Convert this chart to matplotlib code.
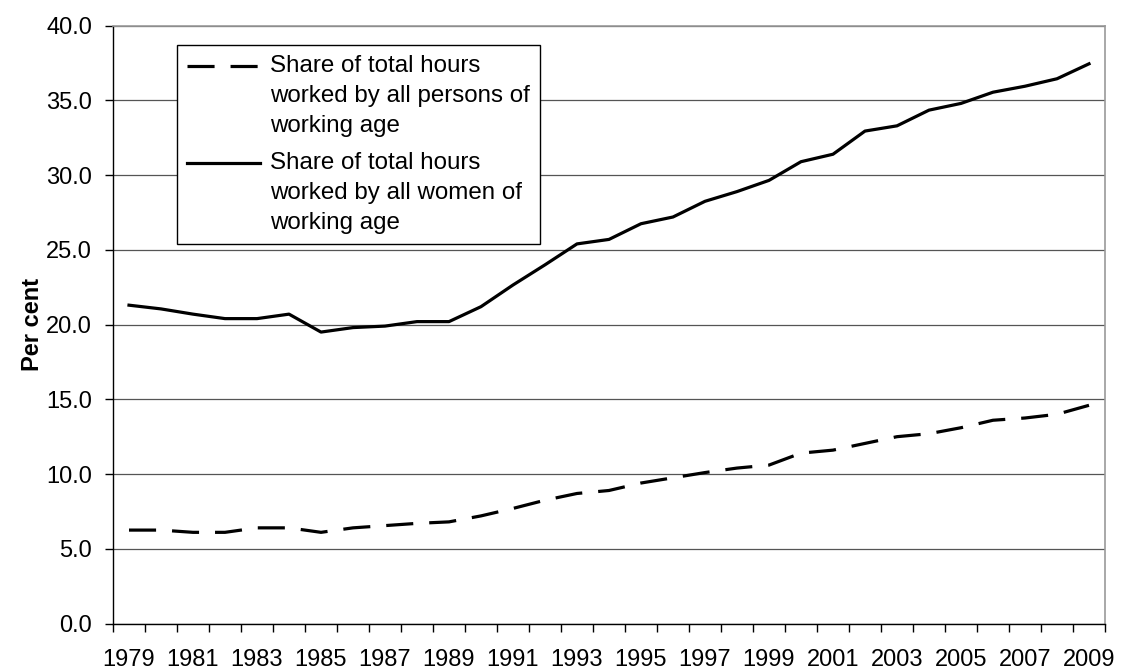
import matplotlib
matplotlib.use("Agg")
import matplotlib.pyplot as plt
from matplotlib.legend_handler import HandlerLine2D
from matplotlib.lines import Line2D
import numpy as np

plt.rcParams['font.family'] = ['Liberation Sans', 'DejaVu Sans']
plt.rcParams['lines.scale_dashes'] = False

years = list(range(1979, 2010))
persons = [6.25, 6.25, 6.1, 6.1, 6.4, 6.4, 6.1, 6.4, 6.55, 6.7, 6.8, 7.2, 7.7,
           8.25, 8.7, 8.9, 9.4, 9.75, 10.1, 10.4, 10.6, 11.4, 11.6, 12.05, 12.5,
           12.7, 13.1, 13.6, 13.75, 14.0, 14.6]
women = [21.3, 21.05, 20.7, 20.4, 20.4, 20.7, 19.5, 19.8, 19.9, 20.2, 20.2, 21.2,
         22.65, 24.0, 25.4, 25.7, 26.75, 27.2, 28.25, 28.9, 29.65, 30.9, 31.4,
         32.95, 33.3, 34.35, 34.8, 35.55, 35.95, 36.45, 37.45]
label_persons = "Share of total hours\nworked by all persons of\nworking age"
label_women = "Share of total hours\nworked by all women of\nworking age"
ylabel = "Per cent"
yticks = [0, 5, 10, 15, 20, 25, 30, 35, 40]

FS = 17
LFS = 17.4
DPI = 100


class TopLineHandler(HandlerLine2D):
    """Places the legend sample level with the first line of a multi-line label."""
    def __init__(self, shift_pt, **kw):
        super().__init__(**kw)
        self.shift_pt = shift_pt

    def create_artists(self, legend, orig_handle, xdescent, ydescent, width,
                       height, fontsize, trans):
        arts = super().create_artists(legend, orig_handle, xdescent, ydescent,
                                      width, height, fontsize, trans)
        for a in arts:
            if isinstance(a, Line2D):
                a.set_ydata(np.asarray(a.get_ydata(), dtype=float) + self.shift_pt)
        return arts


fig = plt.figure(figsize=(11.25, 6.7), dpi=DPI)
ax = fig.add_axes([113/1125, 1 - 623.5/670, 992/1125, (623.5 - 25.7)/670])

x = np.arange(len(years))
ax.set_xlim(-0.5, len(years) - 0.5)
ax.set_ylim(0, 40)

# choose a gap so the dashed line ends inside a dash (as in the reference)
dash_on = 19.5
disp = ax.transData.transform(np.column_stack([x, persons]))
L_pt = np.sum(np.hypot(*np.diff(disp, axis=0).T)) * 72 / DPI
best_gap = 11.0
for g in sorted(np.linspace(9.5, 12.5, 61), key=lambda v: abs(v - 11.0)):
    ph = L_pt % (dash_on + g)
    if 12.0 <= ph <= dash_on:
        best_gap = g
        break

l1, = ax.plot(x, persons, color='black', lw=2.3, dashes=(dash_on, best_gap),
              label=label_persons)
l2, = ax.plot(x, women, color='black', lw=2.3, label=label_women)

ax.set_yticks(yticks)
ax.set_yticklabels([f"{v:.1f}" for v in yticks], fontsize=FS)
ax.yaxis.grid(True, color='#555555', lw=0.9)
ax.set_axisbelow(True)

ax.set_xticks(np.arange(-0.5, len(years), 1.0))
ax.set_xticklabels([])
lab_pos = [i for i, y in enumerate(years) if (y - 1979) % 2 == 0]
ax.set_xticks(lab_pos, minor=True)
ax.set_xticklabels([str(years[i]) for i in lab_pos], minor=True, fontsize=FS)
ax.tick_params(axis='x', which='major', direction='out', length=6, width=1, color='black')
ax.tick_params(axis='x', which='minor', length=0, pad=18)
ax.tick_params(axis='y', direction='out', length=6, width=1, color='black', pad=9)

for s in ['top', 'right']:
    ax.spines[s].set_color('#999999')
    ax.spines[s].set_linewidth(1.2)
for s in ['left', 'bottom']:
    ax.spines[s].set_color('black')
    ax.spines[s].set_linewidth(1.0)

ax.set_ylabel(ylabel, fontsize=FS, fontweight='bold', labelpad=1.5)

shift = 30 * 72 / DPI  # one text line, in points
leg = ax.legend(handles=[l1, l2], loc='upper left',
                bbox_to_anchor=((177-113)/992, (623.5-45)/597.8),
                borderaxespad=0, fontsize=LFS, frameon=True, fancybox=False,
                edgecolor='black', framealpha=1, handlelength=3.0,
                handletextpad=0.42, borderpad=0.42, labelspacing=0.62,
                handler_map={Line2D: TopLineHandler(shift)})
leg.get_frame().set_linewidth(1.0)
for t in leg.get_texts():
    t.set_linespacing(1.47)

fig.savefig("out.png", dpi=DPI)
